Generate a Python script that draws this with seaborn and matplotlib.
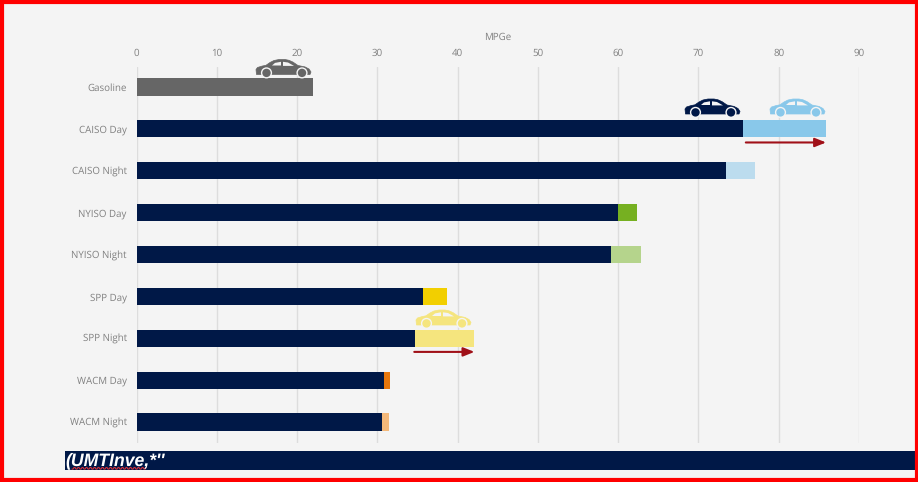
import pandas as pd
import numpy as np
import matplotlib
matplotlib.use('Agg')
import matplotlib.pyplot as plt
from matplotlib.patches import Polygon, Circle, Rectangle
import seaborn as sns

categorias = ['Gasoline', 'CAISO Day', 'CAISO Night', 'NYISO Day', 'NYISO Night',
              'SPP Day', 'SPP Night', 'WACM Day', 'WACM Night']
base = [22.0, 75.6, 73.4, 60.0, 59.1, 35.7, 34.7, 30.8, 30.6]
total = [22.0, 85.9, 77.0, 62.4, 62.8, 38.7, 42.1, 31.6, 31.5]
colores_base = ['#666666'] + ['#001847'] * 8
colores_total = ['#666666', '#89c8ea', '#bcdcee', '#76b021', '#b5d48c',
                 '#f2cf00', '#f5e57e', '#e8770c', '#f3b87a']
ticks = [0, 10, 20, 30, 40, 50, 60, 70, 80, 90]

GRIS = '#808080'
FONDO = '#f4f4f4'
W, H = 918, 482

sns.set_theme(style='white')
plt.rcParams['font.family'] = ['Open Sans', 'DejaVu Sans']
plt.rcParams['text.hinting'] = 'none'

datos = pd.DataFrame({'categoria': categorias, 'base': base, 'total': total})

fig = plt.figure(figsize=(W / 100, H / 100), dpi=100, facecolor=FONDO)
ax = fig.add_axes([136.5 / W, 1 - 443 / H, (859 - 136.5) / W, (443 - 67) / H])
ax.set_facecolor('none')

sns.barplot(data=datos, y='categoria', x='total', hue='categoria', palette=colores_total,
            dodge=False, legend=False, width=0.41, ax=ax, saturation=1, zorder=3, linewidth=0)
sns.barplot(data=datos, y='categoria', x='base', hue='categoria', palette=colores_base,
            dodge=False, legend=False, width=0.41, ax=ax, saturation=1, zorder=4, linewidth=0)

ax.set_xlim(0, 90)
ax.set_ylim(8.5, -0.477)
ax.xaxis.tick_top()
ax.xaxis.set_label_position('top')
ax.set_xticks(ticks)
ax.set_xlabel('MPGe', fontsize=7, color=GRIS, labelpad=6)
ax.set_ylabel('')
ax.tick_params(axis='x', length=0, pad=6, labelsize=7, labelcolor=GRIS)
ax.tick_params(axis='y', length=0, pad=7, labelsize=7, labelcolor=GRIS)
ax.grid(axis='x', color='#dddddd', linewidth=1)
ax.set_axisbelow(True)
sns.despine(ax=ax, left=True, bottom=True, top=True, right=True)

# flechas rojas
for fila, desde, hasta in [(1, 75.9, 85.9), (6, 34.6, 42.1)]:
    ax.annotate('', xy=(hasta, fila + 0.325), xytext=(desde, fila + 0.325), zorder=5,
                arrowprops=dict(arrowstyle='-|>,head_width=0.22,head_length=0.55',
                                color='#a01018', lw=1.5, shrinkA=0, shrinkB=0))

# capa en pixeles para coches, banda inferior y marco
capa = fig.add_axes([0, 0, 1, 1])
capa.set_xlim(0, W)
capa.set_ylim(H, 0)
capa.axis('off')
capa.patch.set_alpha(0)


def coche(x, y, color):
    # x, y es la esquina superior izquierda, coche de 55x18
    puntos = [(0.5, 15), (0, 10), (1.5, 8), (6, 6.6), (10, 5.8), (14, 3), (18, 1), (23, 0), (29, 0),
              (33, 0.8), (37, 2.6), (42, 6), (49, 7.4), (53, 9.5), (55, 12.5), (54, 15)]
    capa.add_patch(Polygon([(x + a, y + b) for a, b in puntos], fc=color, ec=color, lw=0.5))
    capa.add_patch(Polygon([(x + 16, y + 6), (x + 19, y + 3.4), (x + 25, y + 2.3), (x + 25, y + 6)], fc=FONDO, ec='none'))
    capa.add_patch(Polygon([(x + 27, y + 2.3), (x + 32, y + 3), (x + 38, y + 6.4), (x + 27, y + 6.4)], fc=FONDO, ec='none'))
    for cx in (10.5, 46):
        capa.add_patch(Circle((x + cx, y + 13.4), 5.6, fc=FONDO, ec='none'))
        capa.add_patch(Circle((x + cx, y + 13.4), 4.2, fc=color, ec='none'))


coche(256, 59.5, '#666666')
coche(685, 99, '#001847')
coche(770, 99, '#89c8ea')
coche(416, 310, '#f5e57e')

capa.add_patch(Rectangle((65, 451), 850, 19, fc='#001847', ec='none'))
capa.text(65.5, 460.5, "(UMTInve,*''", color='white', fontsize=12.7, fontweight='bold', style='italic',
          family=['Liberation Sans', 'DejaVu Sans'], va='center', ha='left')
xs = np.arange(72, 147, 1.0)
capa.plot(xs, 468.3 + 0.8 * np.where(np.arange(len(xs)) % 4 < 2, 1, -1), color='#d0303a', lw=0.8)

capa.add_patch(Rectangle((1.5, 1.5), W - 3, H - 4, fc='none', ec='#ff0000', lw=3))

fig.savefig('out.png', dpi=100, facecolor=FONDO)
